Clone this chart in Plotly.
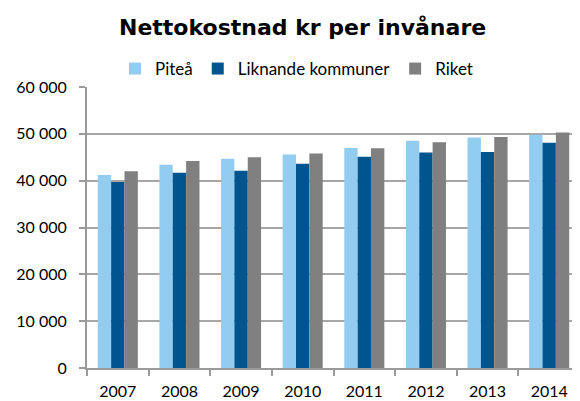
import plotly.graph_objects as go

years = ["2007", "2008", "2009", "2010", "2011", "2012", "2013", "2014"]
pitea = [41200, 43400, 44700, 45600, 47000, 48500, 49200, 49800]
liknande = [39700, 41700, 42100, 43600, 45100, 46000, 46100, 48100]
riket = [42000, 44200, 45000, 45800, 46900, 48200, 49300, 50300]

series = [
    ("Piteå", pitea, "#92CDF0"),
    ("Liknande kommuner", liknande, "#00558F"),
    ("Riket", riket, "#808080"),
]

FONT = "Lato, 'Open Sans', sans-serif"

fig = go.Figure()
for name, vals, color in series:
    fig.add_trace(
        go.Bar(
            x=years,
            y=vals,
            name=name,
            marker={"color": color, "line": {"width": 0}},
        )
    )

# page body has an 8px margin, so the figure is sized to fit inside the window
fig.update_layout(
    width=572,
    height=393,
    template="none",
    paper_bgcolor="white",
    plot_bgcolor="white",
    separators=", ",
    font={"family": FONT, "size": 16, "color": "black"},
    title={
        "text": "<b>Nettokostnad kr per invånare</b>",
        "x": 0.515,
        "xanchor": "center",
        "y": 1 - 19 / 393,
        "yanchor": "middle",
        "font": {"size": 22, "family": "'DejaVu Sans', sans-serif"},
    },
    barmode="group",
    bargap=0.35,
    bargroupgap=0,
    margin={"l": 79, "r": 0, "t": 79, "b": 33},
    showlegend=True,
    legend={
        "orientation": "h",
        "x": 0.425,
        "xanchor": "center",
        "y": 1 + 18 / 281,
        "yanchor": "middle",
        "font": {"size": 17},
        "tracegroupgap": 0,
    },
)
fig.update_xaxes(
    type="category",
    showline=True,
    linecolor="#9a9a9a",
    linewidth=2,
    ticks="outside",
    tickson="boundaries",
    ticklen=6,
    tickcolor="#9a9a9a",
    tickwidth=2,
    showgrid=False,
    tickfont={"size": 16},
    ticklabelstandoff=8,
)
fig.update_yaxes(
    range=[0, 60000],
    dtick=10000,
    tickformat=",d",
    showline=True,
    linecolor="#9a9a9a",
    linewidth=2,
    ticks="outside",
    ticklen=6,
    tickcolor="#9a9a9a",
    tickwidth=2,
    showgrid=True,
    gridcolor="#a6a6a6",
    gridwidth=2,
    zeroline=False,
    tickfont={"size": 16},
    ticklabelstandoff=9,
)

fig.write_html("out.html")
